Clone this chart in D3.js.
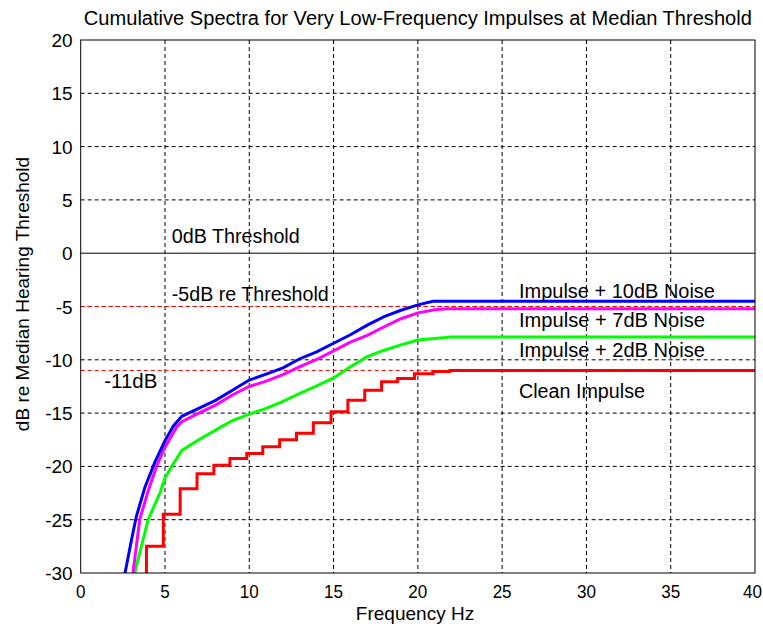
<!DOCTYPE html>
<html><head><meta charset="utf-8">
<script src="https://cdn.jsdelivr.net/npm/d3@7/dist/d3.min.js"></script>
<style>
body{margin:0;background:#fff;}
text{font-family:"Liberation Sans",Arial,sans-serif;fill:#000;}
</style></head>
<body><svg id="c" width="763" height="629"></svg>
<script>
const title = "Cumulative Spectra for Very Low-Frequency Impulses at Median Threshold";
const xLabel = "Frequency Hz";
const yLabel = "dB re Median Hearing Threshold";
const xTicks = [0,5,10,15,20,25,30,35,40];
const yTicks = [20,15,10,5,0,-5,-10,-15,-20,-25,-30];

// Impulse + 10dB Noise (blue)
const blueFreq = [2.4,2.63,3.0,3.3,3.8,4.4,5.0,5.5,6.0,7.0,8.0,9.0,10.0,11.0,12.0,13.0,14.0,15.0,16.0,17.0,18.0,19.0,20.0,20.9,40];
const blueDb   = [-32,-30,-27,-24.7,-22,-19.6,-17.6,-16.2,-15.3,-14.55,-13.8,-12.85,-11.9,-11.35,-10.75,-9.9,-9.25,-8.45,-7.65,-6.75,-5.95,-5.35,-4.85,-4.5,-4.5];
// Impulse + 7dB Noise (magenta)
const magFreq = [2.85,3.1,3.5,4.0,4.5,5.0,5.7,6.0,6.5,7.0,8.0,9.0,10.0,11.0,12.0,13.0,14.0,15.0,16.0,17.0,18.0,19.0,20.0,21.0,21.7,40];
const magDb   = [-32,-30,-25,-22.3,-20,-18.2,-16.3,-15.8,-15.4,-15.0,-14.25,-13.3,-12.5,-12.0,-11.4,-10.65,-9.97,-9.16,-8.35,-7.7,-6.9,-6.15,-5.6,-5.3,-5.2,-5.2];
// Impulse + 2dB Noise (green)
const greenFreq = [2.95,3.2,3.6,4.0,4.7,5.0,5.4,6.0,7.0,8.0,9.0,10.0,11.0,12.0,13.0,14.0,15.0,16.0,17.0,18.0,19.0,20.0,21.0,22.0,40];
const greenDb   = [-32,-30,-27.5,-25,-22.5,-21.1,-20,-18.5,-17.5,-16.6,-15.7,-15.1,-14.55,-13.9,-13.15,-12.45,-11.7,-10.65,-9.7,-9.1,-8.6,-8.15,-8.0,-7.85,-7.85];
// Clean Impulse (red, stepped)
const redFreq = [3.9,3.9,4.9,5.9,6.9,7.9,8.85,9.85,10.8,11.8,12.8,13.8,14.85,15.85,16.85,17.85,18.8,19.8,20.9,21.9,40];
const redDb   = [-32,-27.5,-24.5,-22.1,-20.7,-19.9,-19.25,-18.8,-18.15,-17.5,-16.9,-15.9,-14.87,-13.8,-12.85,-12.06,-11.75,-11.3,-11.1,-11.0,-11.0];

const refLevels = [0,-5,-11];
const refColors = ["#000","#ff0000","#ff0000"];
const annoText = ["0dB Threshold","-5dB re Threshold","-11dB"];
const annoX = [5.4,5.4,1.4];
const annoY = [1.0,-4.5,-12.6];
const annoW = [128,157,53];
const legendText = ["Impulse + 10dB Noise","Impulse + 7dB Noise","Impulse + 2dB Noise","Clean Impulse"];
const legendY = [-4.2,-6.9,-9.7,-13.6];
const legendW = [196,186,186,126];
const legendX = 26.0;

const svg = d3.select("#c");
const L=80.7, R=755, T=40, B=573;
const x = d3.scaleLinear().domain([0,40]).range([L,R]);
const y = d3.scaleLinear().domain([-30,20]).range([B,T]);

// grid
const g = svg.append("g");
g.selectAll("line.vg").data(xTicks.slice(1,-1)).join("line")
  .attr("x1",d=>x(d)).attr("x2",d=>x(d)).attr("y1",T).attr("y2",B)
  .attr("stroke","#000").attr("stroke-width",1).attr("stroke-dasharray","4,3");
g.selectAll("line.hg").data(yTicks.slice(1,-1).filter(d=>d!==0)).join("line")
  .attr("x1",L).attr("x2",R).attr("y1",d=>y(d)).attr("y2",d=>y(d))
  .attr("stroke","#000").attr("stroke-width",1).attr("stroke-dasharray","4,3");

svg.append("defs").append("clipPath").attr("id","clip").append("rect")
  .attr("x",L).attr("y",T).attr("width",R-L).attr("height",B-T);

// reference lines
refLevels.forEach((lv,i)=>{
  svg.append("line").attr("x1",x(0)).attr("x2",x(40)).attr("y1",y(lv)).attr("y2",y(lv))
    .attr("stroke",refColors[i]).attr("stroke-width",1)
    .attr("stroke-dasharray", lv===0?null:"4,3");
});

const plot = svg.append("g").attr("clip-path","url(#clip)");
const line = d3.line().x(d=>x(d[0])).y(d=>y(d[1]));
const stepLine = d3.line().x(d=>x(d[0])).y(d=>y(d[1])).curve(d3.curveStepAfter);
const zip=(a,b)=>a.map((v,i)=>[v,b[i]]);
plot.append("path").attr("d",stepLine(zip(redFreq,redDb))).attr("fill","none").attr("stroke","#ff0000").attr("stroke-width",3);
plot.append("path").attr("d",line(zip(greenFreq,greenDb))).attr("fill","none").attr("stroke","#00ff00").attr("stroke-width",3);
plot.append("path").attr("d",line(zip(magFreq,magDb))).attr("fill","none").attr("stroke","#ff00ff").attr("stroke-width",3);
plot.append("path").attr("d",line(zip(blueFreq,blueDb))).attr("fill","none").attr("stroke","#0000ff").attr("stroke-width",3);

// frame
svg.append("rect").attr("x",L).attr("y",T).attr("width",R-L).attr("height",B-T)
  .attr("fill","none").attr("stroke","#000").attr("stroke-width",1);

// axes labels
svg.selectAll("text.xt").data(xTicks).join("text")
  .attr("x",d=>d===40 ? 762 : x(d)).attr("y",598)
  .attr("text-anchor",d=>d===40 ? "end" : "middle").attr("font-size",19)
  .attr("textLength",d=>String(d).length*9.5).attr("lengthAdjust","spacingAndGlyphs").text(d=>d);
svg.selectAll("text.yt").data(yTicks).join("text")
  .attr("x",L-8).attr("y",d=>y(d)+7).attr("text-anchor","end").attr("font-size",19).text(d=>d);

svg.append("text").attr("x",(L+R)/2).attr("y",25).attr("text-anchor","middle").attr("font-size",20)
  .attr("textLength",668).attr("lengthAdjust","spacingAndGlyphs").text(title);
svg.append("text").attr("x",415).attr("y",620).attr("text-anchor","middle").attr("font-size",19).text(xLabel);
svg.append("text").attr("transform","translate(29,294) rotate(-90)").attr("text-anchor","middle").attr("font-size",19).text(yLabel);

annoText.forEach((t,i)=>{
  svg.append("text").attr("x",x(annoX[i])).attr("y",y(annoY[i])).attr("font-size",20)
    .attr("textLength",annoW[i]).attr("lengthAdjust","spacingAndGlyphs").text(t);
});
legendText.forEach((t,i)=>{
  svg.append("text").attr("x",x(legendX)).attr("y",y(legendY[i])).attr("font-size",20)
    .attr("textLength",legendW[i]).attr("lengthAdjust","spacingAndGlyphs").text(t);
});
</script></body></html>
